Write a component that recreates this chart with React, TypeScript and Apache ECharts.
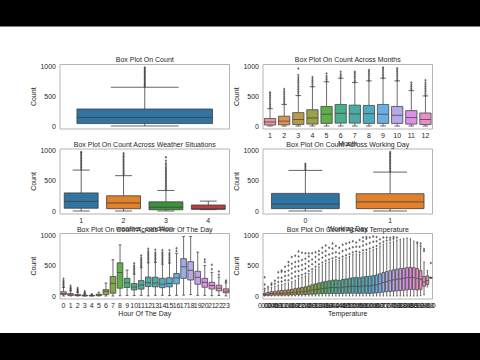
import React, { useEffect, useRef } from 'react';
import * as echarts from 'echarts';

// ---------- DATA ----------
// stats per category: [lowerWhisker, Q1, median, Q3, upperWhisker]
const countCats = [''];
const countStats = [[1, 42, 145, 284, 647]];
const countOut = [[655, 675, 695, 715, 735, 755, 775, 795, 815, 835, 855, 875, 895, 915, 935, 955, 977]];

const monthCats = ['1', '2', '3', '4', '5', '6', '7', '8', '9', '10', '11', '12'];
const monthStats = [
  [1, 17, 68, 126, 290], [1, 22, 82, 164, 360], [1, 27, 109, 224, 508], [1, 33, 136, 273, 655],
  [1, 44, 197, 327, 737], [1, 49, 213, 360, 797], [1, 49, 202, 349, 726], [1, 44, 207, 344, 753],
  [1, 44, 197, 360, 797], [1, 44, 180, 327, 753], [1, 33, 142, 257, 590], [1, 27, 109, 218, 502],
];
const monthOut = [
  [300, 330, 360, 390, 420, 450, 480, 510, 540, 562],
  [370, 400, 430, 460, 490, 520, 550, 580, 617],
  [515, 545, 575, 605, 635, 665, 695, 725, 755, 785, 815, 850, 960],
  [665, 695, 725, 755, 785, 819],
  [745, 775, 805, 835, 874],
  [805, 835, 865, 906],
  [735, 765, 795, 825, 855, 885, 906],
  [760, 790, 820, 850, 880, 910, 934],
  [805, 835, 865, 895, 925, 955, 977],
  [760, 790, 820, 850, 880, 910, 940, 963],
  [600, 630, 660, 690, 726],
  [510, 540, 570, 600, 630, 660, 690, 720, 765],
];

const weatherCats = ['1', '2', '3', '4'];
const weatherStats = [[1, 47, 159, 300, 677], [1, 39, 133, 252, 585], [1, 21, 63, 152, 340], [23, 29, 36, 100, 164]];
const weatherOut = [
  [690, 715, 740, 765, 790, 815, 840, 865, 890, 915, 940, 965, 977],
  [600, 625, 650, 675, 700, 725, 750, 775, 800, 825, 850, 875, 900, 925, 957],
  [355, 380, 405, 430, 455, 480, 505, 530, 555, 580, 605, 630, 655, 680, 705, 730, 760, 790, 830, 891],
  [],
];

const workCats = ['0', '1'];
const workStats = [[1, 40, 115, 292, 672], [1, 40, 151, 287, 644]];
const workOut = [
  [685, 710, 735, 760, 783],
  [655, 680, 705, 730, 755, 780, 805, 830, 855, 880, 905, 930, 955, 977],
];

const hourCats = ['0', '1', '2', '3', '4', '5', '6', '7', '8', '9', '10', '11', '12', '13', '14', '15', '16', '17', '18', '19', '20', '21', '22', '23'];
const hourStats = [
  [1, 24, 40, 70, 140], [1, 11, 20, 40, 85], [1, 6, 11, 26, 58], [1, 3, 6, 14, 30],
  [1, 3, 6, 9, 17], [1, 7, 19, 29, 62], [1, 22, 76, 105, 213], [1, 46, 208, 320, 596],
  [5, 128, 385, 545, 839], [8, 140, 216, 290, 426], [8, 100, 147, 205, 360], [10, 113, 180, 253, 465],
  [3, 155, 218, 311, 545], [11, 150, 214, 308, 550], [12, 137, 195, 291, 523], [7, 150, 206, 300, 540],
  [11, 200, 296, 370, 700], [15, 290, 480, 613, 976], [23, 263, 422, 564, 977], [11, 193, 308, 405, 720],
  [11, 144, 224, 290, 500], [6, 115, 172, 225, 388], [9, 86, 129, 177, 310], [2, 53, 80, 118, 215],
];
const hourOut = [
  [150, 170, 190, 210, 230, 250, 283], [95, 110, 125, 140, 168], [65, 80, 95, 110, 132], [35, 45, 55, 79],
  [20, 28], [], [], [],
  [], [], [375, 400, 425, 450, 475, 500, 539], [480, 505, 530, 555, 580, 605, 630, 663],
  [560, 585, 610, 635, 660, 685, 710, 735, 776], [565, 590, 615, 640, 665, 690, 715, 760],
  [540, 565, 590, 615, 640, 665, 690, 715, 750], [555, 580, 605, 630, 655, 680, 705, 750],
  [740, 783], [], [], [],
  [560, 600], [440, 513], [350, 404], [235, 256],
];

const tempCats = ['0.02', '0.04', '0.06', '0.08', '0.1', '0.12', '0.14', '0.16', '0.18', '0.2', '0.22', '0.24', '0.26', '0.28', '0.3', '0.32', '0.34', '0.36', '0.38', '0.4', '0.42', '0.44', '0.46', '0.48', '0.5', '0.52', '0.54', '0.56', '0.58', '0.6', '0.62', '0.64', '0.66', '0.68', '0.7', '0.72', '0.74', '0.76', '0.78', '0.8', '0.82', '0.84', '0.86', '0.88', '0.9', '0.92', '0.94', '0.96', '0.98', '1.0'];
const tempStats = [
  [1, 8, 25, 45, 90], [1, 10, 30, 60, 120], [1, 12, 38, 70, 140], [1, 14, 40, 75, 160], [1, 15, 45, 85, 180],
  [1, 14, 42, 90, 190], [1, 15, 48, 95, 205], [1, 16, 50, 100, 215], [1, 18, 55, 110, 235], [1, 20, 60, 120, 260],
  [1, 22, 65, 130, 290], [1, 24, 70, 140, 310], [1, 25, 75, 150, 330], [1, 28, 85, 165, 370], [1, 30, 95, 185, 400],
  [1, 32, 105, 200, 440], [1, 35, 115, 215, 480], [1, 38, 120, 230, 510], [1, 40, 130, 240, 540], [1, 40, 135, 250, 560],
  [1, 42, 140, 260, 580], [1, 42, 140, 265, 600], [1, 40, 135, 255, 580], [1, 42, 145, 270, 610], [1, 45, 150, 280, 630],
  [1, 44, 155, 290, 650], [1, 45, 160, 300, 680], [1, 44, 160, 305, 690], [1, 42, 155, 300, 680], [1, 45, 165, 315, 710],
  [1, 45, 170, 320, 720], [1, 42, 165, 325, 740], [1, 45, 175, 335, 760], [1, 50, 185, 345, 780], [1, 55, 200, 365, 820],
  [1, 65, 220, 385, 850], [1, 70, 235, 400, 870], [1, 75, 250, 415, 880], [1, 80, 265, 430, 900], [1, 85, 275, 440, 920],
  [1, 90, 280, 450, 930], [1, 95, 290, 455, 940], [1, 100, 300, 465, 950], [1, 110, 305, 470, 940], [1, 105, 300, 465, 900],
  [1, 100, 290, 450, 860], [5, 110, 275, 415, 790], [20, 160, 230, 320, 560], [150, 190, 255, 330, 420], [290, 295, 300, 305, 310],
];
const tempOut = [
  [120, 190, 310], [150], [180, 205], [200, 250], [230, 300, 390],
  [240, 300, 400, 420], [260, 330, 400, 480], [260, 340, 420, 500, 560], [290, 370, 450, 530, 640], [320, 400, 480, 560, 660],
  [330, 410, 490, 570, 650, 730], [350, 430, 510, 590, 710], [370, 450, 530, 610, 700], [410, 490, 570, 650, 700], [440, 520, 600, 700],
  [480, 560, 640, 720], [520, 600, 680, 740], [550, 630, 710, 790], [580, 660, 740, 830], [600, 680, 790],
  [620, 700, 780, 860], [640, 720, 820], [620, 700, 790], [650, 740, 840], [670, 760, 860],
  [690, 780, 880], [720, 800, 900], [730, 810, 880], [720, 810, 920], [750, 830, 900, 960],
  [760, 850, 940, 970], [780, 870, 960], [800, 890, 977], [820, 900, 970], [860, 930],
  [890, 960], [910, 960], [920, 955], [940, 970], [960],
  [], [], [], [], [],
  [880], [820, 860], [740, 770], [], [540],
];

const titles = [
  'Box Plot On Count',
  'Box Plot On Count Across Months',
  'Box Plot On Count Across Weather Situations',
  'Box Plot On Count Across Working Day',
  'Box Plot On Count Across Hour Of The Day',
  'Box Plot On Count Across Temperature',
];
const xNames = ['', 'Month', 'weather_condition', 'Working Day', 'Hour Of The Day', 'Temperature'];
const yTicks = [0, 500, 1000];

// ---------- colour helpers (seaborn husl / desaturate) ----------
const M = [[3.2406, -1.5372, -0.4986], [-0.9689, 1.8758, 0.0415], [0.0557, -0.204, 1.057]];
function maxChroma(L: number, H: number) {
  const hrad = (H / 360) * 2 * Math.PI;
  const sinH = Math.sin(hrad), cosH = Math.cos(hrad);
  const sub1 = Math.pow(L + 16, 3) / 1560896;
  const sub2 = sub1 > 0.008856 ? sub1 : L / 903.3;
  let result = Infinity;
  for (const [m1, m2, m3] of M) {
    const top = (0.99915 * m1 + 1.05122 * m2 + 1.1446 * m3) * sub2;
    const rbottom = 0.8633 * m3 - 0.17266 * m2;
    const lbottom = 0.12949 * m3 - 0.38848 * m1;
    const bottom = (rbottom * sinH + lbottom * cosH) * sub2;
    for (const t of [0, 1]) {
      const C = (L * (top - 1.05122 * t)) / (bottom + 0.17266 * sinH * t);
      if (C > 0 && C < result) result = C;
    }
  }
  return result;
}
function fInv(t: number) { const t3 = t * t * t; return t3 > 0.008856 ? t3 : (116 * t - 16) / 903.3; }
function fromLinear(c: number) { return c <= 0.0031308 ? 12.92 * c : 1.055 * Math.pow(c, 1 / 2.4) - 0.055; }
function huslToRgb(h: number, s: number, l: number): number[] {
  const C = (maxChroma(l, h) / 100) * s;
  const hrad = (h / 360) * 2 * Math.PI;
  const U = Math.cos(hrad) * C, V = Math.sin(hrad) * C;
  const Y = fInv((l + 16) / 116);
  const vu = U / (13 * l) + 0.19784;
  const vv = V / (13 * l) + 0.46834;
  const X = -(9 * Y * vu) / ((vu - 4) * vv - vu * vv);
  const Z = (9 * Y - 15 * vv * Y - vv * X) / (3 * vv);
  return M.map((r) => Math.min(1, Math.max(0, fromLinear(r[0] * X + r[1] * Y + r[2] * Z))));
}
function rgbToHls(r: number, g: number, b: number) {
  const mx = Math.max(r, g, b), mn = Math.min(r, g, b);
  const l = (mx + mn) / 2;
  if (mx === mn) return [0, l, 0];
  const s = l <= 0.5 ? (mx - mn) / (mx + mn) : (mx - mn) / (2 - mx - mn);
  const rc = (mx - r) / (mx - mn), gc = (mx - g) / (mx - mn), bc = (mx - b) / (mx - mn);
  let h = r === mx ? bc - gc : g === mx ? 2 + rc - bc : 4 + gc - rc;
  h = ((h / 6) % 1 + 1) % 1;
  return [h, l, s];
}
function vv_(m1: number, m2: number, hue: number) {
  hue = ((hue % 1) + 1) % 1;
  if (hue < 1 / 6) return m1 + (m2 - m1) * hue * 6;
  if (hue < 0.5) return m2;
  if (hue < 2 / 3) return m1 + (m2 - m1) * (2 / 3 - hue) * 6;
  return m1;
}
function hlsToRgb(h: number, l: number, s: number) {
  if (s === 0) return [l, l, l];
  const m2 = l <= 0.5 ? l * (1 + s) : l + s - l * s;
  const m1 = 2 * l - m2;
  return [vv_(m1, m2, h + 1 / 3), vv_(m1, m2, h), vv_(m1, m2, h - 1 / 3)];
}
function hexToRgb(h: string) { return [1, 3, 5].map((i) => parseInt(h.slice(i, i + 2), 16) / 255); }
function toHex(c: number[]) { return '#' + c.map((v) => Math.round(v * 255).toString(16).padStart(2, '0')).join(''); }
function desat(c: number[], p: number) { const [h, l, s] = rgbToHls(c[0], c[1], c[2]); return hlsToRgb(h, l, s * p); }
function huslPalette(n: number) {
  const out: number[][] = [];
  for (let i = 0; i < n; i++) {
    const h = ((i / n + 0.01) % 1) * 359;
    out.push(huslToRgb(h, 0.9 * 99, 0.7 * 99));
  }
  return out;
}
function panelColors(base: number[][]) {
  const cols = base.map((c) => desat(c, 0.75));
  const lum = Math.min(...cols.map((c) => rgbToHls(c[0], c[1], c[2])[1])) * 0.6;
  return { fills: cols.map(toHex), gray: toHex([lum, lum, lum]) };
}
const tab10 = ['#1f77b4', '#ff7f0e', '#2ca02c', '#d62728'].map(hexToRgb);

const FONT = 'Liberation Sans, Arial, sans-serif';
const TXT = '#262626';

export default function App() {
  const ref = useRef<HTMLDivElement>(null);
  useEffect(() => {
    if (!ref.current) return;
    const chart = echarts.init(ref.current, undefined, { renderer: 'svg' });
    const panels = [
      { cats: countCats, stats: countStats, out: countOut, pal: panelColors(tab10.slice(0, 1)), showX: false },
      { cats: monthCats, stats: monthStats, out: monthOut, pal: panelColors(huslPalette(12)), showX: true },
      { cats: weatherCats, stats: weatherStats, out: weatherOut, pal: panelColors(tab10.slice(0, 4)), showX: true },
      { cats: workCats, stats: workStats, out: workOut, pal: panelColors(tab10.slice(0, 2)), showX: true },
      { cats: hourCats, stats: hourStats, out: hourOut, pal: panelColors(huslPalette(24)), showX: true },
      { cats: tempCats, stats: tempStats, out: tempOut, pal: panelColors(huslPalette(50)), showX: true },
    ];
    const gridPos = [
      { left: 60, top: 64.5, width: 169.5, height: 64.5 },
      { left: 263, top: 64.5, width: 169.5, height: 64.5 },
      { left: 60, top: 149, width: 169.5, height: 65 },
      { left: 263, top: 149, width: 169.5, height: 65 },
      { left: 60, top: 233.5, width: 169.5, height: 65.5 },
      { left: 263, top: 233.5, width: 169.5, height: 65.5 },
    ];
    const titleY = [59.5, 59.5, 144.5, 144.5, 229.5, 229.5];
    const grid = gridPos.map((g) => ({ ...g, show: true, borderColor: '#b4b4b4', borderWidth: 1, backgroundColor: 'transparent' }));
    const xAxis = panels.map((p, i) => ({
      type: 'category', gridIndex: i, data: p.cats, boundaryGap: true,
      axisLine: { show: false }, axisTick: { show: false }, splitLine: { show: false },
      axisLabel: { show: p.showX, interval: 0, fontSize: 7, color: TXT, margin: 3, fontFamily: FONT },
      name: xNames[i], nameLocation: 'middle', nameGap: 10,
      nameTextStyle: { fontSize: 7, color: TXT, fontFamily: FONT },
    }));
    const yAxis = panels.map((p, i) => ({
      type: 'value', gridIndex: i, min: -48.8, max: 1025.8,
      axisLine: { show: false }, axisTick: { show: false }, splitLine: { show: false },
      axisLabel: { customValues: yTicks, formatter: (v: number) => String(v), fontSize: 7, color: TXT, margin: 4, fontFamily: FONT },
      name: 'Count', nameLocation: 'middle', nameGap: 15,
      nameTextStyle: { fontSize: 7, color: TXT, fontFamily: FONT },
    }));
    const series: any[] = [];
    panels.forEach((p, pi) => {
      const fills = p.pal.fills;
      const gray = p.pal.gray;
      series.push({
        type: 'custom', xAxisIndex: pi, yAxisIndex: pi,
        data: p.stats.map((s, i) => [i, ...s]),
        encode: { x: 0, y: [1, 2, 3, 4, 5] },
        renderItem: (params: any, api: any) => {
          const i = api.value(0);
          const lo = api.coord([i, api.value(1)]);
          const q1 = api.coord([i, api.value(2)]);
          const md = api.coord([i, api.value(3)]);
          const q3 = api.coord([i, api.value(4)]);
          const hi = api.coord([i, api.value(5)]);
          const band = api.size([1, 0])[0];
          const hw = band * 0.4;
          const cw = band * 0.2;
          const x = lo[0];
          const st = { stroke: gray, lineWidth: 0.8 };
          return {
            type: 'group',
            children: [
              { type: 'line', shape: { x1: x, y1: q1[1], x2: x, y2: lo[1] }, style: st },
              { type: 'line', shape: { x1: x, y1: q3[1], x2: x, y2: hi[1] }, style: st },
              { type: 'line', shape: { x1: x - cw, y1: lo[1], x2: x + cw, y2: lo[1] }, style: st },
              { type: 'line', shape: { x1: x - cw, y1: hi[1], x2: x + cw, y2: hi[1] }, style: st },
              { type: 'rect', shape: { x: x - hw, y: q3[1], width: 2 * hw, height: q1[1] - q3[1] }, style: { fill: fills[params.dataIndex % fills.length], stroke: gray, lineWidth: 0.8 } },
              { type: 'line', shape: { x1: x - hw, y1: md[1], x2: x + hw, y2: md[1] }, style: st },
            ],
          };
        },
      });
      const pts: number[][] = [];
      p.out.forEach((arr, ci) => arr.forEach((v) => pts.push([ci, v])));
      series.push({
        type: 'scatter', xAxisIndex: pi, yAxisIndex: pi, data: pts,
        symbol: 'diamond', symbolSize: [2.4, 3], itemStyle: { color: gray }, z: 3,
      });
    });
    const graphic: any[] = [
      { type: 'rect', shape: { x: 0, y: 0, width: 480, height: 26.5 }, style: { fill: '#000' }, z: 100 },
      { type: 'rect', shape: { x: 0, y: 333, width: 480, height: 27 }, style: { fill: '#000' }, z: 100 },
    ];
    titles.forEach((t, i) => {
      graphic.push({
        type: 'text', x: gridPos[i].left + gridPos[i].width / 2, y: titleY[i], z: 50,
        style: { text: t, fontSize: 7, fontFamily: FONT, fill: TXT, textAlign: 'center', textVerticalAlign: 'middle' },
      });
    });
    chart.setOption({
      animation: false,
      backgroundColor: '#ffffff',
      grid, xAxis, yAxis, series, graphic,
    });
    return () => chart.dispose();
  }, []);
  return <div ref={ref} style={{ position: 'absolute', left: 0, top: 0, width: 480, height: 360 }} />;
}
